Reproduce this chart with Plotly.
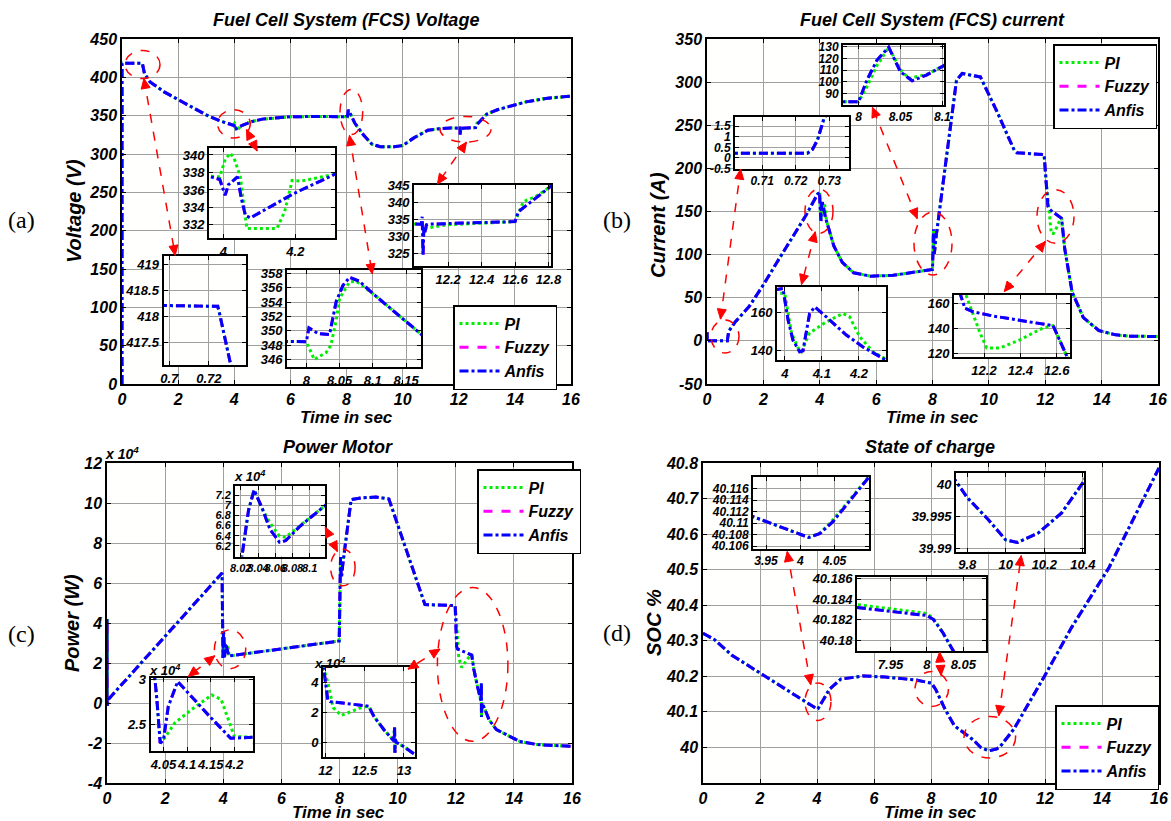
import math
import plotly.graph_objects as go

W, H = 1171, 821
FONT = "Liberation Sans, Arial, Helvetica, sans-serif"
SERIF = "Liberation Serif, Times New Roman, serif"

# ---------------- DATA ----------------
# (a) FCS voltage [V]
t_volt_fz = [0, 0.001, 0.69, 0.7245, 0.7255, 0.7315, 0.8, 1.0, 1.5, 2.0, 2.5, 3.0, 3.5,
             3.95, 3.99, 4.005, 4.014, 4.039, 4.05, 4.061, 4.075, 4.196, 4.31, 4.6, 5.0, 6.0, 7.0,
             8.0, 8.004, 8.018, 8.035, 8.045, 8.055, 8.065, 8.08, 8.1, 8.168,
             8.3, 8.6, 8.9, 9.2, 9.7, 10.0, 10.4, 10.9, 11.3, 11.7,
             12.04, 12.045, 12.05, 12.055, 12.06, 12.07, 12.08, 12.3, 12.6, 12.62, 12.8,
             13.0, 13.4, 13.8, 14.4, 15.1, 16.0]
volt_fuzzy = [0, 418.3, 418.22, 418.2, 418.05, 417.0, 405, 394, 381, 371, 361, 351, 343,
              337.6, 337.2, 335.4, 336.6, 337.5, 335.0, 333.1, 332.8, 335.6, 337.8, 342, 345.5, 348.5, 349,
              348.5, 350.4, 349.6, 349.5, 354.1, 356.3, 357.45, 356.9, 355.2, 349.9,
              340, 325, 313, 309.5, 309.5, 311, 321, 331, 333, 334,
              333.6, 335.8, 324.2, 333.0, 331.0, 333.4, 333.6, 334.0, 334.35, 337.3, 344.5,
              352, 358, 362, 368, 372.5, 375.5]
volt_anfis = list(volt_fuzzy)
t_volt_pi = [0, 0.001, 0.69, 0.7245, 0.7255, 0.7315, 0.8, 1.0, 1.5, 2.0, 2.5, 3.0, 3.5,
             3.95, 3.99, 4.005, 4.019, 4.03, 4.047, 4.065, 4.149, 4.17, 4.191, 4.215, 4.31, 4.6, 5.0, 6.0, 7.0,
             8.0, 8.012, 8.03, 8.037, 8.045, 8.05, 8.065, 8.075, 8.1, 8.168,
             8.3, 8.6, 8.9, 9.2, 9.7, 10.0, 10.4, 10.9, 11.3, 11.7,
             12.04, 12.07, 12.19, 12.6, 12.65, 12.72, 12.8,
             13.0, 13.4, 13.8, 14.4, 15.1, 16.0]
volt_pi = [0, 418.3, 418.22, 418.2, 418.05, 417.0, 405, 394, 381, 371, 361, 351, 343,
           337.6, 337.5, 339.5, 340.2, 339.6, 337.5, 331.6, 331.6, 333.5, 337.1, 337.0, 337.8, 342, 345.5, 348.5, 349,
           348.5, 346.0, 347.0, 348.0, 351.5, 354.5, 356.8, 356.9, 355.2, 349.9,
           340, 325, 313, 309.5, 309.5, 311, 321, 331, 333, 334,
           333.6, 332.4, 333.4, 334.35, 340.3, 341.7, 344.3,
           352, 358, 362, 368, 372.5, 375.5]

# (b) FCS current [A]
t_cur_fz = [0, 0.005, 0.01, 0.7235, 0.725, 0.7265, 0.7285, 0.77, 1.0, 1.5, 2.0, 2.5, 3.0, 3.5, 3.92,
            3.995, 4.009, 4.022, 4.04, 4.049, 4.067, 4.081, 4.112, 4.166, 4.211, 4.28,
            4.5, 4.8, 5.2, 5.8, 6.6,
            8.0, 8.01, 8.022, 8.036, 8.05, 8.064, 8.081, 8.105,
            8.5, 8.85, 9.05, 9.7, 10.3, 10.9, 11.0, 11.96,
            12.03, 12.077, 12.095, 12.14, 12.25, 12.58, 12.627, 12.69,
            12.95, 13.35, 13.9, 14.5, 15.0, 16.0]
cur_fuzzy = [0, 10, 0, 0.22, 0.4, 0.85, 1.9, 11, 22, 40, 65, 92, 118, 145, 170,
             172.5, 156, 145.6, 139.5, 140, 159.5, 162.9, 157.7, 148.2, 142, 134.5,
             110, 91, 79, 75, 76,
             82.8, 101.4, 118.6, 129.5, 108.5, 100.8, 105.7, 115,
             214, 302, 310, 306, 265, 221, 218, 216,
             185, 165.3, 156, 153.3, 149.9, 142.2, 125.4, 107,
             57, 27, 12, 7, 5.5, 5]
cur_anfis = list(cur_fuzzy)
t_cur_pi = [0, 0.005, 0.01, 0.7235, 0.725, 0.7265, 0.7285, 0.77, 1.0, 1.5, 2.0, 2.5, 3.0, 3.5, 3.92,
            4.0, 4.018, 4.036, 4.045, 4.067, 4.112, 4.157, 4.175, 4.202, 4.238, 4.28,
            4.5, 4.8, 5.2, 5.8, 6.6,
            8.0, 8.01, 8.022, 8.036, 8.05, 8.06, 8.081, 8.105,
            8.5, 8.85, 9.05, 9.7, 10.3, 10.9, 11.0, 11.96,
            12.03, 12.1, 12.14, 12.178, 12.215, 12.288, 12.398, 12.526, 12.58, 12.627, 12.69,
            12.95, 13.35, 13.9, 14.5, 15.0, 16.0]
cur_pi = [0, 10, 0, 0.22, 0.4, 0.85, 1.9, 11, 22, 40, 65, 92, 118, 145, 170,
          170, 149.3, 141.5, 139.5, 149.3, 155.1, 159.5, 157.7, 147.3, 139.5, 134.5,
          110, 91, 79, 75, 76,
          82.8, 95.7, 114, 129.5, 110.5, 102.8, 106.2, 115,
          214, 302, 310, 306, 265, 221, 218, 216,
          185, 167, 151, 136.5, 124.5, 124.5, 131, 140.5, 142.2, 125.4, 107,
          57, 27, 12, 7, 5.5, 5]

# (c) Motor power [W]
t_pow_fz = [0, 0.001, 0.003, 0.04,
            3.96, 3.99, 4.01, 4.032, 4.036, 4.043, 4.05, 4.06, 4.08, 4.092, 4.148, 4.192, 4.24,
            7.95, 7.99,
            8.0213, 8.029, 8.0355, 8.0455, 8.054, 8.065, 8.072, 8.089, 8.12,
            8.4, 8.73, 9.25, 9.7, 10.94, 11.98,
            12.03, 12.06, 12.55, 12.62, 12.75, 12.87, 12.88, 12.885, 12.89, 12.9,
            13.0, 13.15, 13.4, 14.2, 14.8, 16.0]
pow_fuzzy = [0, 42000, -2000, 1700,
             65000, 22500, 36000, 30000, 27800, 22960, 23300, 27000, 29800, 29100, 25900, 23500, 23600,
             30800, 31000,
             59900, 69000, 73000, 69100, 65200, 62700, 63000, 65900, 70200,
             101700, 102500, 103000, 102000, 49200, 48700,
             28300, 27000, 24000, 17000, 8000, 1000, 10000, -7000, 2000, 0,
             -3000, -8500, -13300, -19200, -20800, -21700]
pow_anfis = list(pow_fuzzy)
t_pow_pi = [0, 0.001, 0.003, 0.04,
            3.96, 3.99, 4.01, 4.032, 4.043, 4.052, 4.074, 4.11, 4.152, 4.172, 4.2, 4.24,
            7.95, 7.99,
            8.0213, 8.029, 8.0355, 8.0455, 8.054, 8.065, 8.072, 8.089, 8.12,
            8.4, 8.73, 9.25, 9.7, 10.94, 11.98,
            12.03, 12.06, 12.1, 12.2, 12.43, 12.55, 12.62, 12.75, 12.87, 12.88, 12.885, 12.89, 12.9,
            13.0, 13.15, 13.4, 14.2, 14.8, 16.0]
pow_pi = [0, 42000, -2000, 1700,
          65000, 22500, 36000, 30000, 23300, 23500, 25200, 26700, 28300, 27800, 23700, 23600,
          30800, 31000,
          59900, 69000, 73000, 69100, 66500, 63900, 63700, 66000, 70200,
          101700, 102500, 103000, 102000, 49200, 48700,
          40000, 33000, 23000, 17800, 22500, 24000, 17000, 8000, 1000, 10000, -7000, 2000, 0,
          -3000, -8500, -13300, -19200, -20800, -21700]

# (d) State of charge [%]
t_soc = [0, 0.39, 1.0, 1.96, 3.0, 3.92,
         4.0, 4.0125, 4.029, 4.048, 4.1003,
         4.44, 4.83, 5.62, 6.4, 7.45,
         7.9, 8.0, 8.009, 8.022, 8.035,
         8.16, 8.49, 8.82, 9.14, 9.5, 9.73,
         9.8, 9.911, 10.0, 10.06, 10.17, 10.29, 10.41,
         10.91, 12.02, 12.93, 14.24, 16.0]
soc_fuzzy = [40.321, 40.304, 40.26, 40.211, 40.16, 40.1116,
             40.108, 40.1075, 40.1082, 40.1103, 40.118,
             40.164, 40.192, 40.201, 40.198, 40.19,
             40.1832, 40.1824, 40.182, 40.1807, 40.1789,
             40.164, 40.108, 40.061, 40.042, 40.02, 40.001,
             39.998, 39.9945, 39.9914, 39.991, 39.9925, 39.9956, 40.0007,
             40.052, 40.206, 40.337, 40.505, 40.786]
soc_anfis = list(soc_fuzzy)
soc_pi = [40.321, 40.304, 40.26, 40.211, 40.16, 40.1116,
          40.108, 40.1075, 40.1083, 40.1106, 40.1181,
          40.164, 40.192, 40.201, 40.198, 40.19,
          40.1835, 40.1826, 40.1821, 40.1807, 40.1789,
          40.164, 40.108, 40.061, 40.042, 40.02, 40.001,
          39.998, 39.9945, 39.9914, 39.991, 39.9925, 39.9956, 40.0007,
          40.052, 40.206, 40.337, 40.505, 40.786]

time_ticks = [0, 2, 4, 6, 8, 10, 12, 14, 16]
volt_ticks = [0, 50, 100, 150, 200, 250, 300, 350, 400, 450]
cur_ticks = [-50, 0, 50, 100, 150, 200, 250, 300, 350]
pow_ticks = [-40000, -20000, 0, 20000, 40000, 60000, 80000, 100000, 120000]
pow_ticklabels = ["-4", "-2", "0", "2", "4", "6", "8", "10", "12"]
soc_ticks = [40.0, 40.1, 40.2, 40.3, 40.4, 40.5, 40.6, 40.7, 40.8]
soc_ticklabels = ["40", "40.1", "40.2", "40.3", "40.4", "40.5", "40.6", "40.7", "40.8"]

SERIES = {
    "a": [("PI", t_volt_pi, volt_pi), ("Fuzzy", t_volt_fz, volt_fuzzy), ("Anfis", t_volt_fz, volt_anfis)],
    "b": [("PI", t_cur_pi, cur_pi), ("Fuzzy", t_cur_fz, cur_fuzzy), ("Anfis", t_cur_fz, cur_anfis)],
    "c": [("PI", t_pow_pi, pow_pi), ("Fuzzy", t_pow_fz, pow_fuzzy), ("Anfis", t_pow_fz, pow_anfis)],
    "d": [("PI", t_soc, soc_pi), ("Fuzzy", t_soc, soc_fuzzy), ("Anfis", t_soc, soc_anfis)],
}
STYLE = {"PI": dict(color="#00ee00", dash="dot"),
         "Fuzzy": dict(color="#ff00ff", dash="dash"),
         "Anfis": dict(color="#0000ff", dash="dashdot")}

# ---------------- LAYOUT HELPERS ----------------
def fx(p):
    return p / W

def fy(p):
    return 1 - p / H

def fmt(v):
    return f"{v:g}"

# (panel, pixel box (x0,y0,x1,y1), xrange, yrange, xticks, yticks, xlabels, ylabels, fontsize, linewidth, legend)
subplots = [
    ("a", (122, 39, 571, 384), [0, 16], [0, 450], time_ticks, volt_ticks, None, None, 16, 1.5, "legend"),
    ("b", (707, 39, 1158, 384), [0, 16], [-50, 350], time_ticks, cur_ticks, None, None, 16, 1.5, "legend2"),
    ("c", (107, 463, 572, 783), [0, 16], [-40000, 120000], time_ticks, pow_ticks, None, pow_ticklabels, 16, 1.5, "legend3"),
    ("d", (703, 463, 1159, 783), [0, 16], [39.9, 40.8], time_ticks, soc_ticks, None, soc_ticklabels, 16, 1.5, "legend4"),
    # insets
    ("a", (209, 148, 335, 238), [3.96, 4.31], [330.5, 340.8], [4, 4.2], [332, 334, 336, 338, 340], None, None, 13, 2, None),
    ("a", (163.5, 256, 246, 365), [0.6971, 0.7388], [417.07, 419.17], [0.7, 0.72], [417.5, 418, 418.5, 419], None, None, 13, 2, None),
    ("a", (287, 270, 421, 367), [7.971, 8.1725], [344.97, 358.47], [8, 8.05, 8.1, 8.15], [346, 348, 350, 352, 354, 356, 358], None, None, 13, 2, None),
    ("a", (414, 185, 551, 266), [11.996, 12.815], [321.2, 345.2], [12.2, 12.4, 12.6, 12.8], [325, 330, 335, 340, 345], None, None, 13, 2, None),
    ("b", (735, 117, 849, 169), [0.7019, 0.7359], [-0.53, 1.94], [0.71, 0.72, 0.73], [-0.5, 0, 0.5, 1, 1.5], None, None, 12, 2, None),
    ("b", (843, 45, 944, 105), [7.9814, 8.102], [80, 131.5], [8, 8.05, 8.1], [90, 100, 110, 120, 130], None, None, 12, 2, None),
    ("b", (777, 287, 886, 360), [3.979, 4.273], [135.2, 173.3], [4, 4.1, 4.2], [140, 160], None, None, 13, 2, None),
    ("b", (954, 295, 1070, 357), [12.035, 12.673], [117.3, 166.6], [12.2, 12.4, 12.6], [120, 140, 160], None, None, 13, 2, None),
    ("c", (235, 486, 325, 556.5), [8.0133, 8.1178], [59900, 73770], [8.02, 8.04, 8.06, 8.08, 8.1],
     [62000, 64000, 66000, 68000, 70000, 72000], None, ["6.2", "6.4", "6.6", "6.8", "7", "7.2"], 11, 2, None),
    ("c", (150.6, 678, 252.5, 751.3), [4.0227, 4.2383], [22040, 30190], [4.05, 4.1, 4.15, 4.2],
     [25000, 30000], None, ["2.5", "3"], 13, 2, None),
    ("c", (323, 667, 415, 757), [11.97, 13.14], [-9800, 50000], [12, 12.5, 13],
     [0, 20000, 40000], None, ["0", "2", "4"], 13, 2, None),
    ("d", (753, 477, 869, 549), [3.931, 4.1003], [40.1055, 40.118], [3.95, 4, 4.05],
     [40.106, 40.108, 40.11, 40.112, 40.114, 40.116], None,
     ["40.106", "40.108", "40.11", "40.112", "40.114", "40.116"], 12, 2, None),
    ("d", (956, 473, 1084, 551.5), [9.742, 10.406], [39.9896, 40.0018], [9.8, 10, 10.2, 10.4],
     [39.99, 39.995, 40.0], None, ["39.99", "39.995", "40"], 13, 2, None),
    ("d", (857, 576.5, 986, 651.4), [7.904, 8.081], [40.1789, 40.1862], [7.95, 8, 8.05],
     [40.18, 40.182, 40.184, 40.186], None, ["40.18", "40.182", "40.184", "40.186"], 13, 2, None),
]

fig = go.Figure()
layout = dict(
    width=W, height=H,
    margin=dict(l=0, r=0, t=0, b=0, autoexpand=False),
    paper_bgcolor="white", plot_bgcolor="#fffffe",
    showlegend=True,
    font=dict(family=FONT, color="black"),
)

for k, (pan, box, xr, yr, xt, yt, xtt, ytt, fs, lw, leg) in enumerate(subplots, start=1):
    x0, y0, x1, y1 = box
    sfx = "" if k == 1 else str(k)
    tfont = dict(family=FONT, size=fs, color="black", weight="bold", style="italic")
    common = dict(showline=True, linecolor="black", linewidth=lw, mirror="ticks",
                  ticks="inside", ticklen=4, tickwidth=1, tickcolor="black",
                  showgrid=True, gridcolor="#a0a0a0", gridwidth=1, zeroline=False,
                  tickfont=tfont, fixedrange=True, tickmode="array", tickangle=0)
    layout["xaxis" + sfx] = dict(domain=[fx(x0), fx(x1)], range=xr, anchor="y" + sfx,
                                 tickvals=xt, ticktext=xtt if xtt else [fmt(v) for v in xt], **common)
    layout["yaxis" + sfx] = dict(domain=[fy(y1), fy(y0)], range=yr, anchor="x" + sfx,
                                 tickvals=yt, ticktext=ytt if ytt else [fmt(v) for v in yt], **common)
    for name, t, v in SERIES[pan]:
        fig.add_trace(go.Scatter(
            x=t, y=v, mode="lines", name=name,
            line=dict(width=3, **STYLE[name]),
            xaxis="x" + sfx, yaxis="y" + sfx,
            showlegend=leg is not None, legend=leg if leg else "legend",
            hoverinfo="skip"))

legend_pos = {"legend": (453, 305), "legend2": (1053, 44), "legend3": (477, 469), "legend4": (1055, 705)}
for lg, (lx, ly) in legend_pos.items():
    layout[lg] = dict(x=fx(lx), y=fy(ly), xanchor="left", yanchor="top",
                      bgcolor="white", bordercolor="black", borderwidth=1.5,
                      font=dict(family=FONT, size=16, color="black", weight="bold", style="italic"),
                      itemwidth=40, tracegroupgap=0)

ann = []

def text(x, y, s, size, angle=0, family=FONT, bold=True, italic=True):
    f = dict(family=family, size=size, color="black")
    if bold:
        f["weight"] = "bold"
    if italic:
        f["style"] = "italic"
    ann.append(dict(x=fx(x), y=fy(y), xref="paper", yref="paper", text=s, showarrow=False,
                    xanchor="center", yanchor="middle", textangle=angle, font=f))

# titles
text(346, 20, "Fuel Cell System (FCS) Voltage", 18)
text(932, 20, "Fuel Cell System (FCS) current", 18)
text(338, 447, "Power Motor", 18)
text(930, 447, "State of charge", 18)
# axis titles
for xx, yy in [(346, 417), (932, 417), (338, 812), (930, 812)]:
    text(xx, yy, "Time in sec", 17)
text(74, 211, "Voltage (V)", 20, -90)
text(658, 225, "Current (A)", 20, -90)
text(72, 623, "Power (W)", 20, -90)
text(654, 623, "SOC %", 20, -90)
# panel labels
text(21, 220, "(a)", 24, family=SERIF, bold=False, italic=False)
text(617, 220, "(b)", 24, family=SERIF, bold=False, italic=False)
text(22, 634, "(c)", 24, family=SERIF, bold=False, italic=False)
text(617, 633, "(d)", 24, family=SERIF, bold=False, italic=False)
# exponent labels
text(122, 453, "x 10<sup>4</sup>", 14)
text(249, 476, "x 10<sup>4</sup>", 13)
text(164, 670, "x 10<sup>4</sup>", 13)
text(329, 663, "x 10<sup>4</sup>", 13)

shapes = []
ellipses = [
    (125, 50.5, 160, 78.5), (217.5, 109.8, 250.3, 137.9), (340, 89.4, 362.7, 134.6), (440, 116.4, 491, 142.1),
    (711, 320, 739, 353), (805, 189, 833, 233.4), (914, 212, 952, 275), (1037, 189.6, 1074, 243.3),
    (330.6, 549.2, 355.1, 585.8), (214.4, 629.8, 245.7, 668.7), (437.4, 587.5, 507.9, 741.3),
    (805, 683, 831, 720.4), (915, 671.4, 948.5, 706.4), (964, 716.4, 1015.6, 758),
]
for (a0, b0, a1, b1) in ellipses:
    shapes.append(dict(type="circle", xref="paper", yref="paper",
                       x0=fx(a0), x1=fx(a1), y0=fy(b1), y1=fy(b0),
                       line=dict(color="red", width=1.5, dash="dash")))

arrows = [
    ((143.9, 78.5), (175.2, 255.5)), ((246.5, 129.6), (257.1, 151)), ((349.5, 135.5), (372.2, 273.9)),
    ((466.5, 142.1), (437.4, 184)),
    ((720.5, 319.1), (740.6, 169.2)), ((815.3, 231.8), (801.5, 284.5)), ((917.2, 218.6), (872.4, 107.2)),
    ((1045.3, 241.6), (1004.2, 291.7)),
    ((337.4, 551.5), (325.3, 527.2)), ((214.8, 655.8), (188.4, 676.4)), ((440, 649.1), (408, 669.1)),
    ((810.7, 684.7), (787.2, 551.5)), ((941.1, 675.4), (939.6, 652.1)), ((998.8, 715.7), (1021.2, 555.5)),
]
HEAD_L, HEAD_W = 10, 4.5
for p, q in arrows:
    shapes.append(dict(type="line", xref="paper", yref="paper",
                       x0=fx(p[0]), y0=fy(p[1]), x1=fx(q[0]), y1=fy(q[1]),
                       line=dict(color="red", width=1.5, dash="dash")))
    for tip, other in ((p, q), (q, p)):
        dx, dy = other[0] - tip[0], other[1] - tip[1]
        L = math.hypot(dx, dy)
        ux, uy = dx / L, dy / L
        bx, by = tip[0] + ux * HEAD_L, tip[1] + uy * HEAD_L
        nx, ny = -uy, ux
        pts = [(tip[0], tip[1]), (bx + nx * HEAD_W, by + ny * HEAD_W), (bx - nx * HEAD_W, by - ny * HEAD_W)]
        path = "M {:.5f},{:.5f} L {:.5f},{:.5f} L {:.5f},{:.5f} Z".format(
            *[c for pt in pts for c in (fx(pt[0]), fy(pt[1]))])
        shapes.append(dict(type="path", xref="paper", yref="paper", path=path,
                           fillcolor="red", line=dict(color="red", width=1)))

layout["annotations"] = ann
layout["shapes"] = shapes
fig.update_layout(**layout)
fig.write_html(
    "out.html",
    config={"displayModeBar": False},
    post_script="document.body.style.margin='0';document.body.style.padding='0';"
                "document.body.style.overflow='hidden';",
)
